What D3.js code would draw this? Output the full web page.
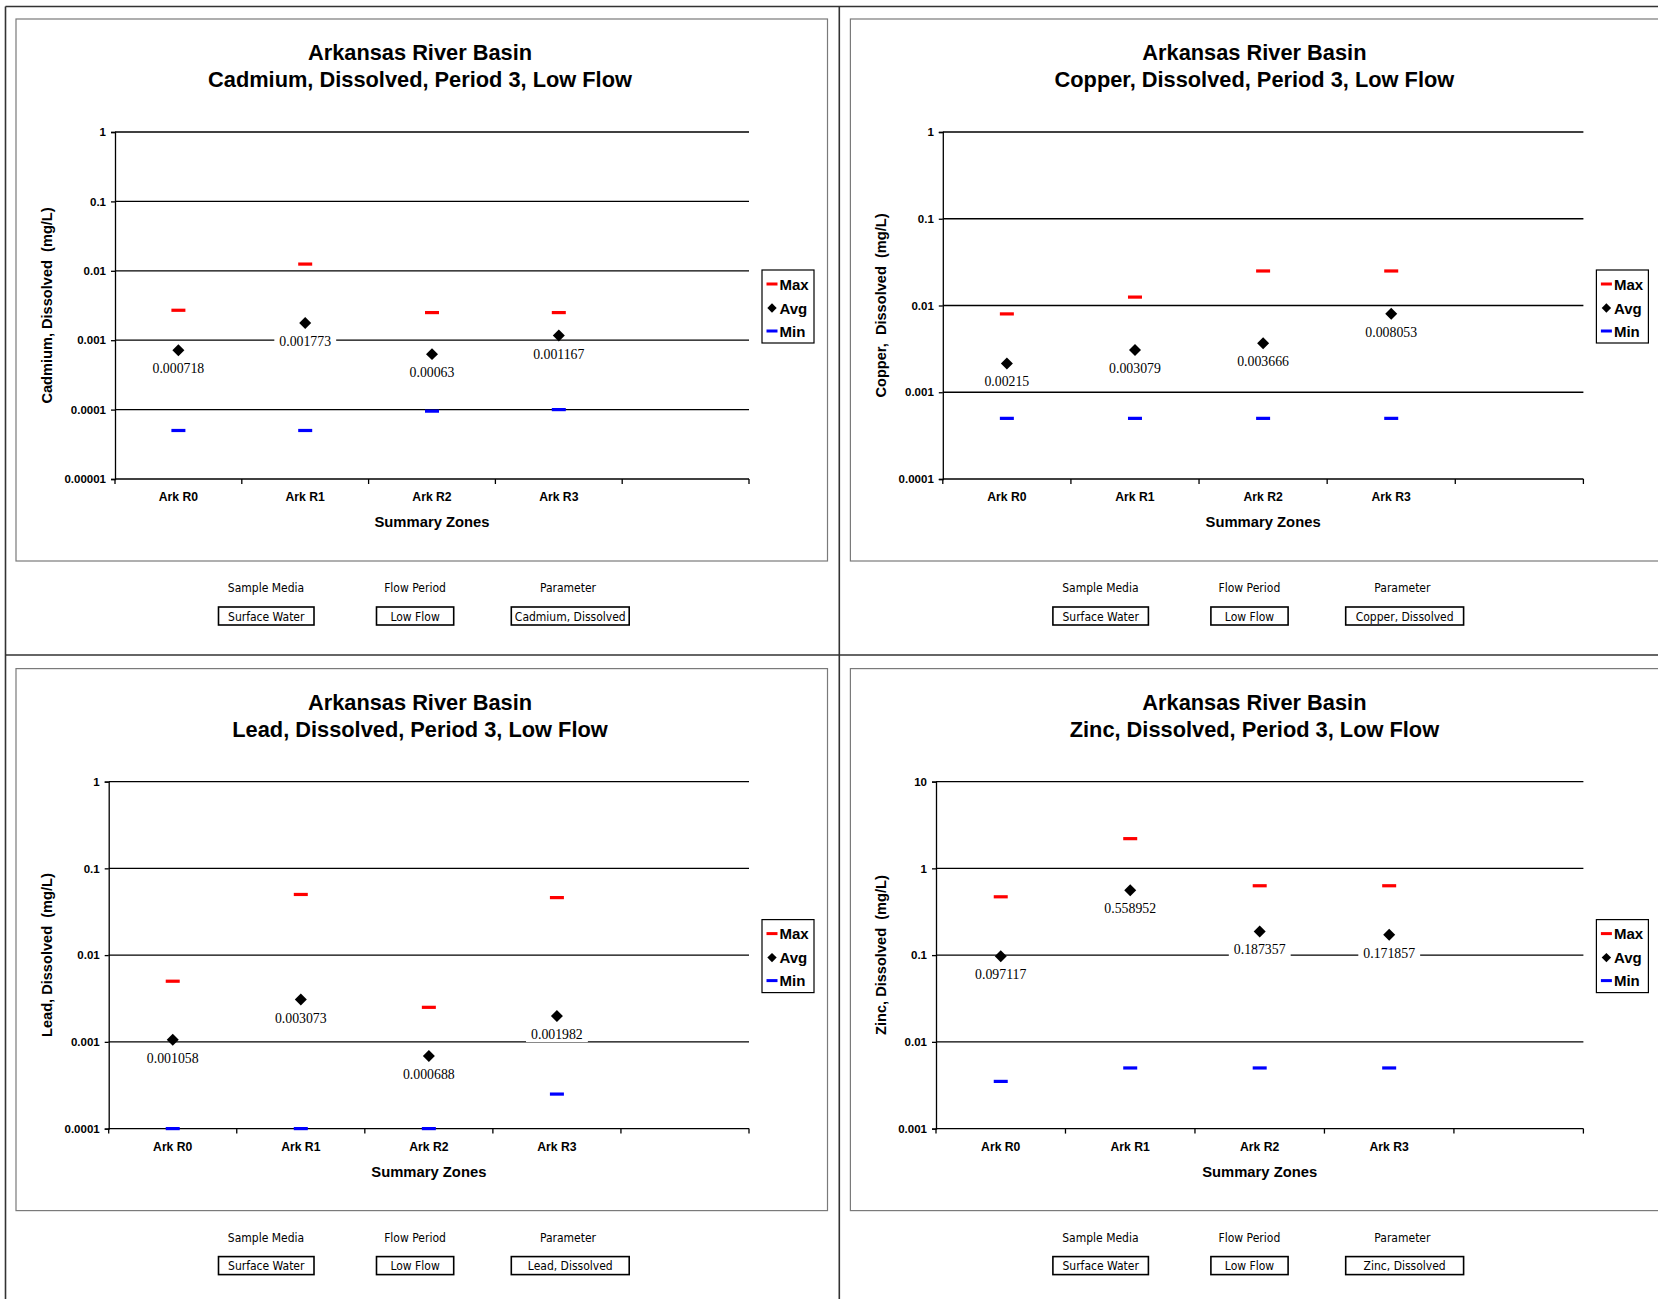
<!DOCTYPE html>
<html><head><meta charset="utf-8">
<script src="https://cdn.jsdelivr.net/npm/d3@7"></script>
<style>
body{margin:0;background:#fff}
svg{display:block;font-family:"Liberation Sans",Arial,sans-serif}
</style>
</head><body>
<svg id="c" width="1658" height="1299"></svg>
<script>
// ---------- data ----------
const categories = ["Ark R0", "Ark R1", "Ark R2", "Ark R3"];
const seriesNames = ["Max", "Avg", "Min"];
const mainTitle = "Arkansas River Basin";
const xTitle = "Summary Zones";
const sampleMedia = "Surface Water";
const flowPeriod = "Low Flow";

const cadmiumMax = [0.0027, 0.0125, 0.0025, 0.0025];
const cadmiumAvg = [0.000718, 0.001773, 0.00063, 0.001167];
const cadmiumMin = [0.00005, 0.00005, 0.000095, 0.0001];
const cadmiumTicks = [0.00001, 0.0001, 0.001, 0.01, 0.1, 1];
const cadmiumTickLabels = ["0.00001", "0.0001", "0.001", "0.01", "0.1", "1"];

const copperMax = [0.008, 0.0125, 0.025, 0.025];
const copperAvg = [0.00215, 0.003079, 0.003666, 0.008053];
const copperMin = [0.0005, 0.0005, 0.0005, 0.0005];
const copperTicks = [0.0001, 0.001, 0.01, 0.1, 1];
const copperTickLabels = ["0.0001", "0.001", "0.01", "0.1", "1"];

const leadMax = [0.005, 0.05, 0.0025, 0.046];
const leadAvg = [0.001058, 0.003073, 0.000688, 0.001982];
const leadMin = [0.0001, 0.0001, 0.0001, 0.00025];
const leadTicks = [0.0001, 0.001, 0.01, 0.1, 1];
const leadTickLabels = ["0.0001", "0.001", "0.01", "0.1", "1"];

const zincMax = [0.47, 2.2, 0.63, 0.63];
const zincAvg = [0.097117, 0.558952, 0.187357, 0.171857];
const zincMin = [0.0035, 0.005, 0.005, 0.005];
const zincTicks = [0.001, 0.01, 0.1, 1, 10];
const zincTickLabels = ["0.001", "0.01", "0.1", "1", "10"];

const panels = [
  {subtitle: "Cadmium, Dissolved, Period 3, Low Flow", yLabel: "Cadmium, Dissolved  (mg/L)", param: "Cadmium, Dissolved",
   max: cadmiumMax, avg: cadmiumAvg, min: cadmiumMin, ticks: cadmiumTicks, tickLabels: cadmiumTickLabels},
  {subtitle: "Copper, Dissolved, Period 3, Low Flow", yLabel: "Copper,  Dissolved  (mg/L)", param: "Copper, Dissolved",
   max: copperMax, avg: copperAvg, min: copperMin, ticks: copperTicks, tickLabels: copperTickLabels},
  {subtitle: "Lead, Dissolved, Period 3, Low Flow", yLabel: "Lead, Dissolved  (mg/L)", param: "Lead, Dissolved",
   max: leadMax, avg: leadAvg, min: leadMin, ticks: leadTicks, tickLabels: leadTickLabels},
  {subtitle: "Zinc, Dissolved, Period 3, Low Flow", yLabel: "Zinc, Dissolved  (mg/L)", param: "Zinc, Dissolved",
   max: zincMax, avg: zincAvg, min: zincMin, ticks: zincTicks, tickLabels: zincTickLabels}
];

// ---------- layout ----------
const W = 1658, H = 1299;
const offsets = [[0, 0], [834.4, 0], [0, 649.6], [834.4, 649.6]];
const plotLefts = [115, 108.4, 108.7, 101.6];
const L = {boxX0: 16, boxX1: 827.5, boxY0: 19, boxY1: 561, plotRight: 749, plotTop: 132, plotBottom: 479,
  titleX: 420, title1Y: 52.5, title2Y: 79.5, yLabX: 47, catY: 497, xTitleY: 522,
  legX0: 762, legX1: 814, legY0: 270, legY1: 343, legItemsY: [284, 308, 331]};
const colors = {Max: "#ff0000", Min: "#0000ff", Avg: "#000000"};
const SANS = "Liberation Sans, Arial, sans-serif";
const SERIF = "Liberation Serif, Times New Roman, serif";

const svg = d3.select("#c");
svg.append("rect").attr("width", W).attr("height", H).attr("fill", "#fff");

// page frame lines
const frame = svg.append("g").attr("stroke", "#333").attr("stroke-width", 1.6);
frame.append("line").attr("x1", 5.5).attr("x2", W).attr("y1", 6.5).attr("y2", 6.5);
frame.append("line").attr("x1", 5.5).attr("x2", 5.5).attr("y1", 6.5).attr("y2", H);
frame.append("line").attr("x1", 839.3).attr("x2", 839.3).attr("y1", 6.5).attr("y2", H);
frame.append("line").attr("x1", 5.5).attr("x2", W).attr("y1", 655).attr("y2", 655);

const diamond = d3.symbol().type(d3.symbolSquare).size(72);
const diamondSmall = d3.symbol().type(d3.symbolSquare).size(44);

panels.forEach((p, i) => {
  const [dx, dy] = offsets[i];
  const g = svg.append("g").attr("transform", `translate(${dx},${dy})`);
  const pl = plotLefts[i];

  // chart area box
  g.append("rect").attr("x", L.boxX0).attr("y", L.boxY0)
    .attr("width", L.boxX1 - L.boxX0).attr("height", L.boxY1 - L.boxY0)
    .attr("fill", "none").attr("stroke", "#7a7a7a").attr("stroke-width", 1.2);

  // titles
  g.append("text").attr("x", L.titleX).attr("y", L.title1Y).attr("text-anchor", "middle")
    .attr("dominant-baseline", "central").attr("font-size", 21.8).attr("font-weight", "bold").text(mainTitle);
  g.append("text").attr("x", L.titleX).attr("y", L.title2Y).attr("text-anchor", "middle")
    .attr("dominant-baseline", "central").attr("font-size", 21.8).attr("font-weight", "bold").text(p.subtitle);

  // scales
  const x = d3.scaleBand().domain([...categories, ""]).range([pl, L.plotRight]).padding(0);
  const y = d3.scaleLog().domain([p.ticks[0], p.ticks[p.ticks.length - 1]]).range([L.plotBottom, L.plotTop]);

  // gridlines
  g.append("g").selectAll("line").data(p.ticks.slice(1)).join("line")
    .attr("x1", pl).attr("x2", L.plotRight).attr("y1", d => y(d)).attr("y2", d => y(d))
    .attr("stroke", "#000").attr("stroke-width", 1.3);

  // y axis
  const yAxis = d3.axisLeft(y).tickValues(p.ticks).tickFormat((d, k) => p.tickLabels[k]).tickSize(4).tickPadding(5);
  const ya = g.append("g").attr("transform", `translate(${pl},0)`).call(yAxis);
  ya.attr("font-family", SANS);
  ya.select(".domain").attr("stroke", "#000").attr("stroke-width", 1.3);
  ya.selectAll(".tick line").attr("stroke", "#000").attr("stroke-width", 1.3);
  ya.selectAll(".tick text").attr("font-size", 11.5).attr("font-weight", "bold").attr("fill", "#000");

  // x axis
  const xa = g.append("g");
  xa.append("line").attr("x1", pl).attr("x2", L.plotRight).attr("y1", L.plotBottom).attr("y2", L.plotBottom)
    .attr("stroke", "#000").attr("stroke-width", 1.3);
  const bounds = [...x.domain().map(d => x(d)), L.plotRight];
  xa.selectAll("line.t").data(bounds).join("line").attr("class", "t")
    .attr("x1", d => d).attr("x2", d => d).attr("y1", L.plotBottom).attr("y2", L.plotBottom + 5)
    .attr("stroke", "#000").attr("stroke-width", 1.3);
  xa.selectAll("text").data(categories).join("text")
    .attr("x", d => x(d) + x.bandwidth() / 2).attr("y", L.catY)
    .attr("text-anchor", "middle").attr("dominant-baseline", "central")
    .attr("font-size", 12.2).attr("font-weight", "bold").text(d => d);

  g.append("text").attr("x", (pl + L.plotRight) / 2).attr("y", L.xTitleY)
    .attr("text-anchor", "middle").attr("dominant-baseline", "central")
    .attr("font-size", 14.8).attr("font-weight", "bold").text(xTitle);

  // y title
  g.append("text").attr("transform", `translate(${L.yLabX},${(L.plotTop + L.plotBottom) / 2}) rotate(-90)`)
    .attr("text-anchor", "middle").attr("dominant-baseline", "central")
    .attr("font-size", 14.6).attr("font-weight", "bold").style("white-space", "pre").text(p.yLabel);

  // data
  const cx = k => x(categories[k]) + x.bandwidth() / 2;
  const marks = g.append("g");
  const labs = marks.append("g");
  p.avg.forEach((v, k) => {
    const lg = labs.append("g");
    const t = lg.append("text").attr("x", cx(k)).attr("y", y(v) + 18.5)
      .attr("text-anchor", "middle").attr("dominant-baseline", "central")
      .attr("font-family", SERIF).attr("font-size", 13.8).text(String(v));
    const bb = t.node().getBBox();
    lg.insert("rect", "text").attr("x", bb.x - 5).attr("y", bb.y).attr("width", bb.width + 10)
      .attr("height", bb.height).attr("fill", "#fff");
  });
  marks.selectAll("rect.max").data(p.max).join("rect").attr("class", "max")
    .attr("x", (d, k) => cx(k) - 7).attr("y", d => y(d) - 1.6).attr("width", 14).attr("height", 3.2)
    .attr("fill", colors.Max);
  marks.selectAll("rect.min").data(p.min).join("rect").attr("class", "min")
    .attr("x", (d, k) => cx(k) - 7).attr("y", d => y(d) - 1.6).attr("width", 14).attr("height", 3.2)
    .attr("fill", colors.Min);
  marks.selectAll("path.avg").data(p.avg).join("path").attr("class", "avg")
    .attr("d", diamond).attr("transform", (d, k) => `translate(${cx(k)},${y(d)}) rotate(45)`)
    .attr("fill", colors.Avg);

  // legend
  const lg = g.append("g");
  lg.append("rect").attr("x", L.legX0).attr("y", L.legY0).attr("width", L.legX1 - L.legX0)
    .attr("height", L.legY1 - L.legY0).attr("fill", "#fff").attr("stroke", "#000").attr("stroke-width", 1.2);
  seriesNames.forEach((s, k) => {
    const yy = L.legItemsY[k];
    if (s === "Avg") {
      lg.append("path").attr("d", diamondSmall).attr("transform", `translate(772,${yy}) rotate(45)`).attr("fill", colors.Avg);
    } else {
      lg.append("rect").attr("x", 766.5).attr("y", yy - 1.5).attr("width", 11).attr("height", 3).attr("fill", colors[s]);
    }
    lg.append("text").attr("x", 779.5).attr("y", yy).attr("dominant-baseline", "central")
      .attr("font-size", 15).attr("font-weight", "bold").text(s);
  });

  // bottom field buttons
  const fb = g.append("g").attr("font-family", "Tahoma, 'DejaVu Sans Condensed', 'Liberation Sans', sans-serif");
  const fields = [
    {label: "Sample Media", value: sampleMedia, lx: 266, x0: 218.5, x1: 314},
    {label: "Flow Period", value: flowPeriod, lx: 415, x0: 376.5, x1: 453.7},
    {label: "Parameter", value: p.param, lx: 568, x0: 511.3, x1: 629.2}
  ];
  fields.forEach(f => {
    fb.append("text").attr("x", f.lx).attr("y", 588).attr("text-anchor", "middle")
      .attr("dominant-baseline", "central").attr("font-size", 12).text(f.label);
    fb.append("rect").attr("x", f.x0).attr("y", 607).attr("width", f.x1 - f.x0).attr("height", 18)
      .attr("fill", "#fff").attr("stroke", "#000").attr("stroke-width", 1.6);
    fb.append("text").attr("x", (f.x0 + f.x1) / 2).attr("y", 616.5).attr("text-anchor", "middle")
      .attr("dominant-baseline", "central").attr("font-size", 12).text(f.value);
  });
});
</script>
</body></html>
